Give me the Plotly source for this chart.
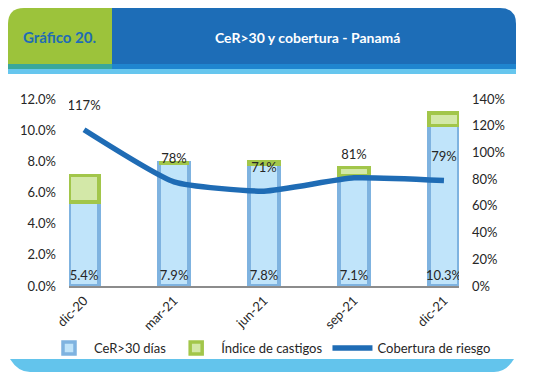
import plotly.graph_objects as go

categories = ["dic-20", "mar-21", "jun-21", "sep-21", "dic-21"]
cer30 = [5.4, 7.9, 7.8, 7.1, 10.3]
castigos = [1.7, 0.0, 0.2, 0.5, 0.8]
cobertura = [117, 78, 71, 81, 79]

# page body has an 8px default margin: figure is drawn at (8, 8)
OX, OY = 8, 8
W, H = 535 - 2 * OX, 381 - 2 * OY
FONT = "Lato"
TXT = "#262626"


def px(x):
    return (x - OX) / W


def py(y):
    return 1 - (y - OY) / H


fig = go.Figure()

fig.add_trace(go.Bar(
    x=categories, y=cer30, name="CeR>30 días",
    marker=dict(color="#c0e4fa", line=dict(color="#7fb3e0", width=3.5)),
    texttemplate="%{y:.1f}%",
    textposition="inside", insidetextanchor="start",
    constraintext="none", textangle=0,
    textfont=dict(family=FONT, size=13, color=TXT),
    yaxis="y",
))
fig.add_trace(go.Bar(
    x=categories, y=castigos, name="Índice de castigos",
    marker=dict(color="#d3e8a8", line=dict(color="#a2c64a", width=3.5)),
    yaxis="y",
))
fig.add_trace(go.Scatter(
    x=categories, y=cobertura, name="Cobertura de riesgo",
    mode="lines+markers+text",
    line=dict(color="#1f6cb5", width=5.5, shape="spline", smoothing=0.5),
    marker=dict(size=24, color="rgba(0,0,0,0)"),
    text=[f"{v}%" for v in cobertura], textposition="top center",
    textfont=dict(family=FONT, size=13, color=TXT),
    yaxis="y2",
))

shapes = []
r = 16
shapes.append(dict(
    type="path", xref="paper", yref="paper", line=dict(width=0), fillcolor="#9cc33b",
    path=(f"M {px(8)},{py(64)} L {px(8)},{py(8 + r)} Q {px(8)},{py(8)} {px(8 + r)},{py(8)} "
          f"L {px(112)},{py(8)} L {px(112)},{py(64)} Z"),
))
shapes.append(dict(
    type="path", xref="paper", yref="paper", line=dict(width=0), fillcolor="#1d6db7",
    path=(f"M {px(112)},{py(64)} L {px(112)},{py(8)} L {px(516 - r)},{py(8)} "
          f"Q {px(516)},{py(8)} {px(516)},{py(8 + r)} L {px(516)},{py(64)} Z"),
))
shapes.append(dict(type="rect", xref="paper", yref="paper", line=dict(width=0),
                   fillcolor="#3aa79b", x0=px(8), x1=px(112), y0=py(69), y1=py(64)))
shapes.append(dict(type="rect", xref="paper", yref="paper", line=dict(width=0),
                   fillcolor="#1f85cf", x0=px(112), x1=px(516), y0=py(69), y1=py(64)))
shapes.append(dict(type="rect", xref="paper", yref="paper", line=dict(width=0),
                   fillcolor="#66c6ee", x0=px(8), x1=px(516), y0=py(74), y1=py(69)))
rb = 14
shapes.append(dict(
    type="path", xref="paper", yref="paper", line=dict(width=0), fillcolor="#63c4ec",
    path=(f"M {px(10)},{py(359)} L {px(514)},{py(359)} "
          f"Q {px(506)},{py(372)} {px(514 - rb - 6)},{py(372)} L {px(10 + rb + 6)},{py(372)} "
          f"Q {px(18)},{py(372)} {px(10)},{py(359)} Z"),
))

annotations = [
    dict(text="<b>Gráfico 20.</b>", xref="paper", yref="paper", x=px(59), y=py(37),
         showarrow=False, font=dict(family=FONT, size=15, color="#1f6cb5"),
         xanchor="center", yanchor="middle"),
    dict(text="<b>CeR>30 y cobertura - Panamá</b>", xref="paper", yref="paper",
         x=px(307), y=py(37), showarrow=False,
         font=dict(family=FONT, size=14, color="white"),
         xanchor="center", yanchor="middle"),
]

fig.update_layout(
    width=W, height=H, autosize=False,
    margin=dict(l=0, r=0, t=0, b=0, autoexpand=False),
    paper_bgcolor="white", plot_bgcolor="white",
    font=dict(family=FONT, size=13, color=TXT),
    barmode="stack", bargap=0.667,
    shapes=shapes, annotations=annotations,
    showlegend=True,
    legend=dict(orientation="h", x=px(270), xanchor="center", y=py(348), yanchor="middle",
                traceorder="normal", font=dict(family=FONT, size=13, color=TXT),
                itemwidth=40, bgcolor="rgba(0,0,0,0)"),
    xaxis=dict(domain=[px(69), px(459)], range=[-0.167, 4.167], type="category",
               automargin=False,
               showline=True, linecolor="#8c8c8c", linewidth=2, ticks="",
               tickangle=-45, showgrid=False, zeroline=False,
               tickfont=dict(family=FONT, size=13, color=TXT)),
    yaxis=dict(domain=[py(286), py(99)], range=[0, 12], dtick=2, tickformat=".1f",
               automargin=False,
               ticksuffix="%", showgrid=False, zeroline=False, showline=False,
               ticklabelstandoff=12, tickfont=dict(family=FONT, size=13, color=TXT)),
    yaxis2=dict(overlaying="y", side="right", range=[0, 140], dtick=20,
                automargin=False,
                ticksuffix="%", showgrid=False, zeroline=False, showline=False,
                ticklabelstandoff=12, tickfont=dict(family=FONT, size=13, color=TXT)),
)

fig.write_html("out.html")
